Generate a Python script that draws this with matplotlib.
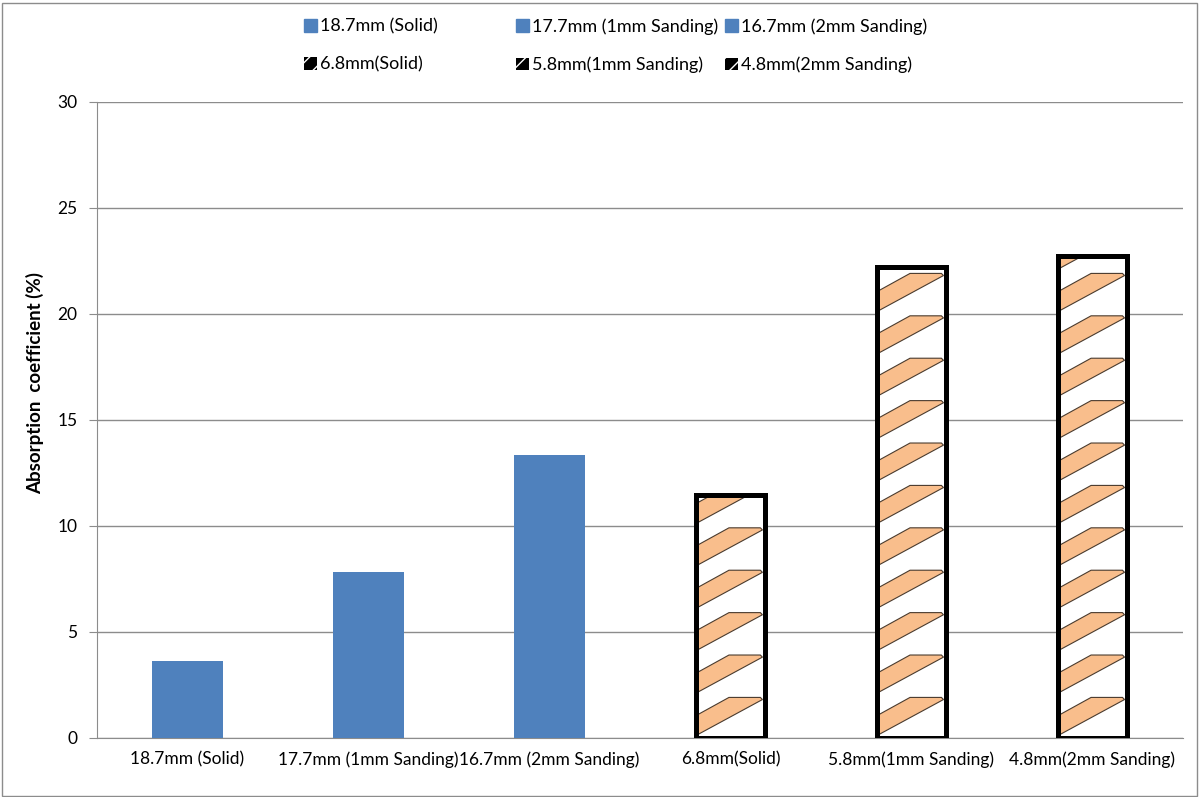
import matplotlib.pyplot as plt
from matplotlib.patches import Patch, Polygon, Rectangle

plt.rcParams['font.family'] = ['Lato', 'DejaVu Sans']

labels = ['18.7mm (Solid)', '17.7mm (1mm Sanding)', '16.7mm (2mm Sanding)',
          '6.8mm(Solid)', '5.8mm(1mm Sanding)', '4.8mm(2mm Sanding)']
solid_idx = [0, 1, 2]
solid_vals = [3.62, 7.82, 13.34]
hatch_idx = [3, 4, 5]
hatch_vals = [11.46, 22.18, 22.7]

blue = '#4F81BD'
orange = '#F9BE8C'

fig = plt.figure(figsize=(12, 7.97), dpi=100)
ax = fig.add_axes([96.7 / 1200, 1 - 737.7 / 797, (1183 - 96.7) / 1200, (737.7 - 101.7) / 797])

# plain blue bars
ax.bar(solid_idx, solid_vals, width=0.39, color=blue, zorder=3)

# hatched bars: white fill, orange slanted stripes, thick black outline
w = 0.385
hb = ax.bar(hatch_idx, hatch_vals, width=w, color='white', zorder=3)
for rect in hb:
    x0 = rect.get_x()
    h = rect.get_height()
    t = 1.9
    while t - 1.81 < h:
        poly = Polygon([(x0, t - 0.87), (x0 + 0.48 * w, t), (x0 + 0.93 * w, t),
                        (x0 + 0.96 * w, t - 0.1), (x0, t - 1.81)],
                       closed=True, facecolor=orange, edgecolor='#4a3b2e', lw=0.8, zorder=4)
        ax.add_patch(poly)
        poly.set_clip_path(rect)
        t += 2
ax.bar(hatch_idx, hatch_vals, width=w, fill=False, edgecolor='black', lw=3.6, zorder=5)

ax.set_xlim(-0.5, 5.5)
ax.set_ylim(0, 30)
ax.set_yticks(range(0, 31, 5))
ax.set_xticks(range(len(labels)))
ax.set_xticklabels(labels)
ax.yaxis.grid(True, color='#8c8c8c', lw=1)
ax.set_axisbelow(True)
for s in ['top', 'right']:
    ax.spines[s].set_visible(False)
for s in ['left', 'bottom']:
    ax.spines[s].set_color('#8c8c8c')
ax.tick_params(axis='x', length=0, pad=10, labelsize=12.5)
ax.tick_params(axis='y', length=6, color='#8c8c8c', labelsize=12.5, pad=8)

fig.text(35 / 1200, 1 - 383 / 797, 'Absorption  coefficient (%)', rotation=90,
         fontsize=13.5, fontweight='bold', ha='center', va='center')

# legend: three columns placed separately
col_x = [304, 516, 725]
for i in range(3):
    handles = [Patch(facecolor=blue, edgecolor=blue, label=labels[solid_idx[i]]),
               Patch(facecolor='black', edgecolor='white', hatch='//', lw=0,
                     label=labels[hatch_idx[i]])]
    fig.legend(handles=handles, loc='center left', frameon=False,
               bbox_to_anchor=(col_x[i] / 1200, 1 - 45.75 / 797),
               borderpad=0, borderaxespad=0, fontsize=13, handlelength=0.7,
               handleheight=0.7, handletextpad=0.2, labelspacing=1.2)

fig.patches.append(Rectangle((1.5 / 1200, 1.5 / 797), 1195 / 1200, 793 / 797,
                             transform=fig.transFigure, fill=False,
                             edgecolor='#8c8c8c', lw=1))

fig.savefig('out.png', dpi=100)
